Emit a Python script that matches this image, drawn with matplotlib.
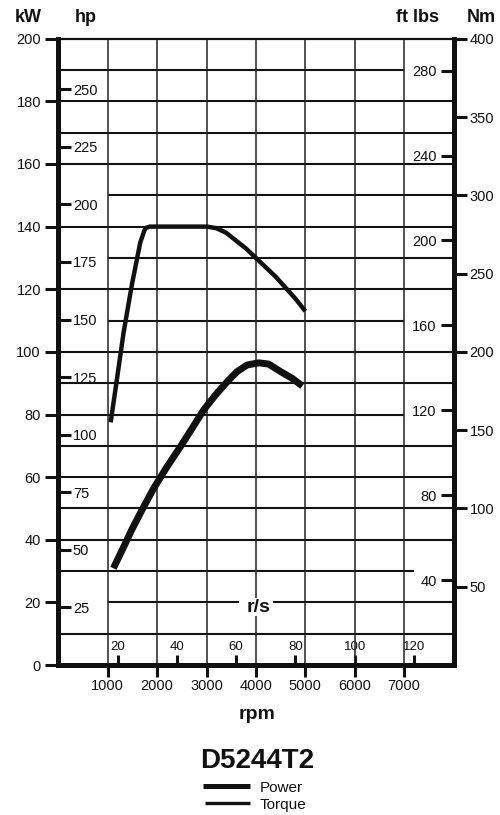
import matplotlib
matplotlib.use("Agg")
import matplotlib.pyplot as plt
from matplotlib.lines import Line2D

plt.rcParams['font.family'] = ['Liberation Sans', 'DejaVu Sans']

INK = '#111111'

# power curve (kW over rpm)
power_rpm = [1115, 1320, 1490, 1690, 1930, 2200, 2470, 2710, 2940, 3180, 3420,
             3620, 3820, 4060, 4260, 4500, 4730, 4940]
power_kw = [30.9, 37.6, 43.3, 49.4, 56.4, 63.3, 69.7, 75.6, 81.4, 86.2, 90.5,
            93.7, 95.8, 96.5, 96.1, 93.7, 91.6, 89.1]

# torque curve (Nm over rpm)
torque_rpm = [1060, 1180, 1320, 1490, 1660, 1760, 1850, 3010, 3200, 3400, 3600,
              3800, 4000, 4200, 4400, 4600, 4800, 5000]
torque_nm = [155, 181, 212, 243, 270, 279, 280, 280, 279, 276, 271,
             266, 260, 254, 248, 241, 234, 226]

# axis ticks
rpm_ticks = [1000, 2000, 3000, 4000, 5000, 6000, 7000]
rps_ticks = [20, 40, 60, 80, 100, 120]
kw_ticks = [0, 20, 40, 60, 80, 100, 120, 140, 160, 180, 200]
hp_ticks = [25, 50, 75, 100, 125, 150, 175, 200, 225, 250]
nm_ticks = [50, 100, 150, 200, 250, 300, 350, 400]
ftlb_ticks = [40, 80, 120, 160, 200, 240, 280]

KW_PER_HP = 0.7355
NM_PER_FTLB = 1.3558

# horizontal rulings: level in kW, from rpm, to rpm (some stop short of labels)
grid_kw = [10, 20, 20, 30, 40, 50, 60, 70, 80, 90, 100, 110, 120, 130, 140, 150, 160, 170, 180, 190]
grid_from = [0, 1000, 4350, 0, 0, 0, 0, 0, 0, 0, 0, 1000, 0, 1000, 0, 1000, 0, 0, 0, 0]
grid_to = [8000, 3650, 8000, 7200, 8000, 8000, 8000, 8000, 7000, 8000, 8000, 7000, 8000, 8000, 8000, 8000, 8000, 8000, 8000, 7000]

fig = plt.figure(figsize=(5, 8.15), dpi=100)
ax = fig.add_axes([0.1166, 0.1840, 0.7904, 0.7685])
ax.set_xlim(0, 8000)
ax.set_ylim(0, 200)

# grid
ax.hlines(grid_kw, grid_from, grid_to, color=INK, lw=1.5, zorder=1)
ax.vlines(rpm_ticks, 0, 200, color='#222222', lw=1.1, zorder=1)

# spines
for side in ['left', 'bottom']:
    ax.spines[side].set_linewidth(3.6)
    ax.spines[side].set_color(INK)
ax.spines['top'].set_linewidth(1.6)
ax.spines['top'].set_color(INK)
ax.spines['right'].set_visible(False)

# kW / rpm ticks
ax.set_xticks(rpm_ticks)
ax.tick_params(axis='x', direction='out', length=8.4, width=2.2, pad=2,
               labelsize=10.5, colors=INK)
ax.set_yticks(kw_ticks)
ax.tick_params(axis='y', direction='out', length=9.5, width=2.2, pad=3,
               labelsize=10.5, colors=INK)

# Nm on the right
ax_nm = ax.twinx()
ax_nm.set_ylim(0, 400)
for side in ['left', 'bottom', 'top']:
    ax_nm.spines[side].set_visible(False)
ax_nm.spines['right'].set_linewidth(3.6)
ax_nm.spines['right'].set_color(INK)
ax_nm.set_yticks(nm_ticks)
ax_nm.tick_params(axis='y', direction='out', length=9.5, width=2.2, pad=2,
                  labelsize=10.5, colors=INK)

# hp, inside the left spine
sec_hp = ax.secondary_yaxis('left', functions=(lambda k: k / KW_PER_HP,
                                                lambda h: h * KW_PER_HP))
sec_hp.set_yticks(hp_ticks)
sec_hp.tick_params(direction='in', length=9.5, width=2.2, pad=-10.5,
                   labelsize=10.5, colors=INK)
sec_hp.spines['left'].set_visible(False)
for t in sec_hp.get_yticklabels():
    t.set_horizontalalignment('left')

# ft lbs, inside the right spine
sec_ft = ax_nm.secondary_yaxis('right', functions=(lambda n: n / NM_PER_FTLB,
                                                    lambda f: f * NM_PER_FTLB))
sec_ft.set_yticks(ftlb_ticks)
sec_ft.tick_params(direction='in', length=9.5, width=2.2, pad=-12,
                   labelsize=10.5, colors=INK)
sec_ft.spines['right'].set_visible(False)
for t in sec_ft.get_yticklabels():
    t.set_horizontalalignment('right')

# r/s, inside the bottom spine
sec_rs = ax.secondary_xaxis('bottom', functions=(lambda r: r / 60,
                                                  lambda s: s * 60))
sec_rs.set_xticks(rps_ticks)
sec_rs.tick_params(direction='in', length=7.5, width=2.2, pad=-8.5,
                   labelsize=9.5, colors=INK)
sec_rs.spines['bottom'].set_visible(False)
for t in sec_rs.get_xticklabels():
    t.set_verticalalignment('bottom')

ax.text(4050, 18.5, 'r/s', ha='center', va='center', fontsize=14,
        fontweight='bold', color=INK, zorder=2,
        bbox=dict(facecolor='white', edgecolor='none', pad=0.5))

# curves
ax.plot(power_rpm, power_kw, color=INK, lw=5, solid_capstyle='butt',
        solid_joinstyle='round', zorder=3)
ax_nm.plot(torque_rpm, torque_nm, color=INK, lw=3.2, solid_capstyle='butt',
           solid_joinstyle='round', zorder=3)

# unit headers
H = 815.0
top_base = 1 - 21.7 / H
fig.text(28 / 500, top_base, 'kW', ha='center', va='baseline', fontsize=13,
         fontweight='bold', color=INK)
fig.text(85.5 / 500, top_base, 'hp', ha='center', va='baseline', fontsize=13,
         fontweight='bold', color=INK)
fig.text(418 / 500, top_base, 'ft lbs', ha='center', va='baseline', fontsize=13,
         fontweight='bold', color=INK)
fig.text(481.5 / 500, top_base, 'Nm', ha='center', va='baseline', fontsize=13,
         fontweight='bold', color=INK)

fig.text(257.5 / 500, 1 - 719 / H, 'rpm', ha='center', va='baseline',
         fontsize=14, fontweight='bold', color=INK)
fig.text(256.7 / 500, 1 - 768.3 / H, 'D5244T2', ha='center', va='baseline',
         fontsize=20, fontweight='bold', color=INK)

# legend
fig.add_artist(Line2D([203 / 500, 250 / 500], [1 - 785.7 / H] * 2,
                      transform=fig.transFigure, color=INK, lw=3.6,
                      solid_capstyle='butt'))
fig.add_artist(Line2D([205 / 500, 250 / 500], [1 - 803.3 / H] * 2,
                      transform=fig.transFigure, color=INK, lw=2.4,
                      solid_capstyle='butt'))
fig.text(260 / 500, 1 - 791.7 / H, 'Power', ha='left', va='baseline',
         fontsize=11, color=INK)
fig.text(260 / 500, 1 - 809 / H, 'Torque', ha='left', va='baseline',
         fontsize=11, color=INK)

fig.savefig('out.png', dpi=100, facecolor='white')
